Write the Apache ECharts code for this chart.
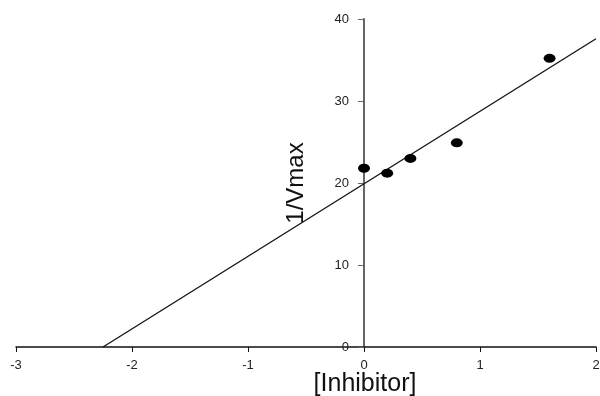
<!DOCTYPE html>
<html>
<head>
<meta charset="utf-8">
<script src="https://cdn.jsdelivr.net/npm/echarts@6/dist/echarts.min.js"></script>
<style>
  html, body { margin: 0; padding: 0; background: #fff; }
  #chart { width: 600px; height: 396px; }
</style>
</head>
<body>
<div id="chart"></div>
<script>
// measured points: [Inhibitor] vs 1/Vmax
const inhibitor = [0, 0.2, 0.4, 0.8, 1.6];
const invVmax = [21.8, 21.2, 23.0, 24.9, 35.2];

// fitted line at its two ends
const fitX = [-2.25, 2];
const fitY = [0, 37.6];

const chart = echarts.init(document.getElementById("chart"));

const axisFont = {
  fontFamily: "Liberation Sans",
  fontSize: 13,
  color: "#222",
};

const option = {
  animation: false,
  grid: { left: 16, right: 4, top: 19, bottom: 49, outerBoundsMode: "none", containLabel: false },
  xAxis: {
    type: "value",
    min: -3,
    max: 2,
    interval: 1,
    name: "[Inhibitor]",
    nameLocation: "middle",
    nameGap: 25,
    nameMoveOverlap: false,
    nameTextStyle: {
      fontFamily: "Liberation Sans",
      fontSize: 25,
      color: "#111",
      padding: [0, 0, 0, 118],
    },
    axisLine: { lineStyle: { color: "#111", width: 1.5 } },
    axisTick: { length: 5, lineStyle: { color: "#111" } },
    axisLabel: { ...axisFont, margin: 12 },
    splitLine: { show: false },
  },
  yAxis: {
    type: "value",
    min: 0,
    max: 40,
    interval: 10,
    // y axis sits at x = 0 (three units in from the left edge)
    offset: -348,
    name: "1/Vmax",
    nameLocation: "middle",
    nameGap: 56,
    nameMoveOverlap: false,
    nameTextStyle: { fontFamily: "Liberation Sans", fontSize: 24, color: "#111" },
    axisLine: { onZero: false, lineStyle: { color: "#666", width: 2 } },
    axisTick: { length: 6, lineStyle: { color: "#666" } },
    axisLabel: { ...axisFont, margin: 15 },
    splitLine: { show: false },
  },
  series: [
    {
      type: "line",
      data: fitX.map((x, i) => [x, fitY[i]]),
      showSymbol: false,
      lineStyle: { color: "#111", width: 1.3 },
      z: 2,
    },
    {
      type: "scatter",
      data: inhibitor.map((x, i) => [x, invVmax[i]]),
      symbol: "circle",
      symbolSize: [12, 9],
      itemStyle: { color: "#000", opacity: 1 },
      z: 3,
    },
  ],
};

chart.setOption(option);
</script>
</body>
</html>
